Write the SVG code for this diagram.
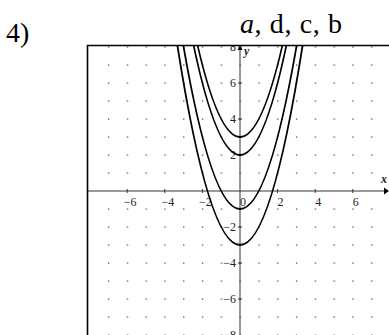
<svg xmlns="http://www.w3.org/2000/svg" width="389" height="335" viewBox="0 0 389 335">
<style>
.lbl{font-family:"Liberation Serif","Times New Roman",serif;font-size:12px;fill:#222}
.curve{fill:none;stroke:#000;stroke-width:1.8}
.tick{stroke:#333;stroke-width:1}
</style>
<defs>
<pattern id="dots" patternUnits="userSpaceOnUse" x="230.6" y="182" width="18.8" height="18">
<rect x="9" y="8.5" width="1.2" height="1.2" fill="#333"/>
</pattern>
<clipPath id="plot"><rect x="87" y="45" width="302" height="290"/></clipPath>
</defs>
<rect width="389" height="335" fill="#fff"/>
<text x="6" y="42" font-family="Liberation Serif, Times New Roman, serif" font-size="28" fill="#000">4)</text>
<text x="240" y="33" font-family="Liberation Serif, Times New Roman, serif" font-size="28" fill="#000" textLength="102" lengthAdjust="spacing"><tspan font-style="italic">a</tspan>, d, c, b</text>
<g id="grid">
<rect x="98" y="45.5" width="284" height="290" fill="url(#dots)"/>
</g>
<g id="axes">
<line x1="87" y1="191" x2="385" y2="191" stroke="#999" stroke-width="2"/>
<path d="M384,187.5 L389,191 L384,194.5 Z" fill="#000"/>
<line x1="240" y1="335" x2="240" y2="48" stroke="#333" stroke-width="1"/>
<path d="M237.5,50 L240,45.5 L242.5,50 Z" fill="#000"/>
<path class="tick" d="M127.2,189v4 M164.8,189v4 M202.4,189v4 M277.6,189v4 M315.2,189v4 M352.8,189v4 M238,47h4 M238,83h4 M238,119h4 M238,155h4 M238,227h4 M238,263h4 M238,299h4"/>
</g>
<g id="labels">
<text class="lbl" x="130.2" y="205.5" text-anchor="middle">−6</text>
<text class="lbl" x="167.8" y="205.5" text-anchor="middle">−4</text>
<text class="lbl" x="205.4" y="205.5" text-anchor="middle">−2</text>
<text class="lbl" x="243" y="205.5" text-anchor="middle">0</text>
<text class="lbl" x="280.6" y="205.5" text-anchor="middle">2</text>
<text class="lbl" x="318.2" y="205.5" text-anchor="middle">4</text>
<text class="lbl" x="355.8" y="205.5" text-anchor="middle">6</text>
<g clip-path="url(#plot)">
<text class="lbl" x="236" y="51" text-anchor="end">8</text>
</g>
<text class="lbl" x="236" y="87" text-anchor="end">6</text>
<text class="lbl" x="236" y="123" text-anchor="end">4</text>
<text class="lbl" x="236" y="159" text-anchor="end">2</text>
<text class="lbl" x="236" y="231" text-anchor="end">−2</text>
<text class="lbl" x="236" y="267" text-anchor="end">−4</text>
<text class="lbl" x="236" y="303" text-anchor="end">−6</text>
<text class="lbl" x="236" y="339" text-anchor="end">−8</text>
<text class="lbl" x="244" y="55" font-style="italic" font-weight="bold">y</text>
<text class="lbl" x="381" y="183" font-style="italic" font-weight="bold">x</text>
</g>
<g id="connectors" clip-path="url(#plot)">
<path id="curve-c3" class="curve" d="M172.32,-96.28 Q240,370.28 307.68,-96.28"/>
<path id="curve-c2" class="curve" d="M172.32,-78.28 Q240,388.28 307.68,-78.28"/>
<path id="curve-cm1" class="curve" d="M172.32,-24.28 Q240,442.28 307.68,-24.28"/>
<path id="curve-cm3" class="curve" d="M172.32,11.72 Q240,478.28 307.68,11.72"/>
</g>
<g id="frame">
<path d="M87.5,336 V45.5 H390" fill="none" stroke="#000" stroke-width="1.6"/>
</g>
</svg>
